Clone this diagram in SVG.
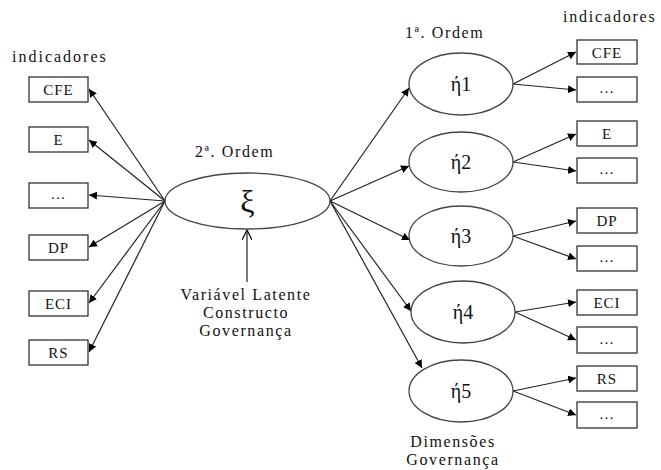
<svg xmlns="http://www.w3.org/2000/svg" width="661" height="470" viewBox="0 0 661 470">
<defs>
<marker id="ah" viewBox="0 0 10 10" refX="10" refY="5" markerWidth="8" markerHeight="8" markerUnits="userSpaceOnUse" orient="auto"><path d="M0,0 L10,5 L0,10 z" fill="#000"/></marker>
<marker id="open" viewBox="0 0 10 10" refX="10" refY="5" markerWidth="10" markerHeight="10" markerUnits="userSpaceOnUse" orient="auto"><path d="M0,0 L10,5 L0,10" fill="none" stroke="#000" stroke-width="1.2"/></marker>
</defs>
<style>
text{font-family:"Liberation Serif","Times New Roman",serif;fill:#111;}
.lbl{font-size:16px;letter-spacing:1.6px;}
.box rect{fill:#fff;stroke:#333;stroke-width:1.3;}
.box text{font-size:15px;letter-spacing:1px;text-anchor:middle;}
.node ellipse{fill:#fff;stroke:#444;stroke-width:1.3;}
.node text{font-size:20px;text-anchor:middle;}
#connectors line{stroke:#222;stroke-width:1.2;marker-end:url(#ah);}
</style>
<rect width="661" height="470" fill="#fff"/>
<text class="lbl" x="12" y="62" style="letter-spacing:2px">indicadores</text>
<text class="lbl" x="563" y="22" style="letter-spacing:1.8px">indicadores</text>
<text class="lbl" x="405" y="38">1ª. Ordem</text>
<text class="lbl" x="195" y="157">2ª. Ordem</text>
<text class="lbl" x="246" y="300" text-anchor="middle">Variável Latente</text>
<text class="lbl" x="246" y="318" text-anchor="middle">Constructo</text>
<text class="lbl" x="246" y="336" text-anchor="middle">Governança</text>
<text class="lbl" x="453" y="447" text-anchor="middle">Dimensões</text>
<text class="lbl" x="453" y="465" text-anchor="middle">Governança</text>

<g id="connectors">
<line x1="165" y1="201" x2="89" y2="89"/>
<line x1="165" y1="201" x2="89" y2="140"/>
<line x1="165" y1="201" x2="89" y2="195"/>
<line x1="165" y1="201" x2="89" y2="247"/>
<line x1="165" y1="201" x2="89" y2="303"/>
<line x1="165" y1="201" x2="89" y2="352"/>
<line x1="330" y1="201" x2="409" y2="88"/>
<line x1="330" y1="201" x2="409" y2="166"/>
<line x1="330" y1="201" x2="410" y2="240"/>
<line x1="330" y1="201" x2="411" y2="311"/>
<line x1="330" y1="201" x2="422" y2="368"/>
<line x1="513" y1="84" x2="576" y2="52"/>
<line x1="513" y1="84" x2="576" y2="90"/>
<line x1="513" y1="162" x2="576" y2="134"/>
<line x1="513" y1="162" x2="576" y2="171"/>
<line x1="513" y1="236" x2="576" y2="221"/>
<line x1="513" y1="236" x2="576" y2="259"/>
<line x1="515" y1="312" x2="576" y2="302"/>
<line x1="515" y1="312" x2="576" y2="340"/>
<line x1="513" y1="391" x2="576" y2="378"/>
<line x1="513" y1="391" x2="576" y2="415"/>
<line x1="247" y1="282" x2="247" y2="230" style="marker-end:url(#open)"/>
</g>

<g id="xi" class="node"><ellipse cx="247.5" cy="201" rx="82.5" ry="28"/><text x="247.5" y="212" style="font-size:32px">ξ</text></g>
<g id="eta1" class="node"><ellipse cx="461" cy="84" rx="52" ry="31"/><text x="461" y="91">ή1</text></g>
<g id="eta2" class="node"><ellipse cx="461" cy="162" rx="52" ry="30"/><text x="461" y="169">ή2</text></g>
<g id="eta3" class="node"><ellipse cx="461" cy="236" rx="52" ry="30"/><text x="461" y="243">ή3</text></g>
<g id="eta4" class="node"><ellipse cx="463" cy="312" rx="52" ry="31"/><text x="463" y="319">ή4</text></g>
<g id="eta5" class="node"><ellipse cx="461" cy="391" rx="52" ry="31"/><text x="461" y="398">ή5</text></g>

<g id="l-cfe" class="box"><rect x="29" y="77" width="59" height="25"/><text x="58.5" y="95">CFE</text></g>
<g id="l-e" class="box"><rect x="29" y="127" width="59" height="25"/><text x="58.5" y="145">E</text></g>
<g id="l-dots" class="box"><rect x="29" y="183" width="59" height="25"/><text x="58.5" y="199">…</text></g>
<g id="l-dp" class="box"><rect x="29" y="235" width="59" height="25"/><text x="58.5" y="253">DP</text></g>
<g id="l-eci" class="box"><rect x="29" y="291" width="59" height="25"/><text x="58.5" y="309">ECI</text></g>
<g id="l-rs" class="box"><rect x="29" y="340" width="59" height="25"/><text x="58.5" y="358">RS</text></g>

<g id="r-cfe" class="box"><rect x="577" y="40" width="60" height="24"/><text x="607" y="58">CFE</text></g>
<g id="r-d1" class="box"><rect x="577" y="77" width="60" height="25"/><text x="607" y="93">…</text></g>
<g id="r-e" class="box"><rect x="577" y="121" width="60" height="25"/><text x="607" y="139">E</text></g>
<g id="r-d2" class="box"><rect x="577" y="158" width="60" height="25"/><text x="607" y="174">…</text></g>
<g id="r-dp" class="box"><rect x="577" y="208" width="60" height="25"/><text x="607" y="226">DP</text></g>
<g id="r-d3" class="box"><rect x="577" y="246" width="60" height="25"/><text x="607" y="262">…</text></g>
<g id="r-eci" class="box"><rect x="577" y="290" width="60" height="25"/><text x="607" y="308">ECI</text></g>
<g id="r-d4" class="box"><rect x="577" y="327" width="60" height="26"/><text x="607" y="344">…</text></g>
<g id="r-rs" class="box"><rect x="577" y="366" width="60" height="25"/><text x="607" y="384">RS</text></g>
<g id="r-d5" class="box"><rect x="577" y="402" width="60" height="26"/><text x="607" y="419">…</text></g>
</svg>
